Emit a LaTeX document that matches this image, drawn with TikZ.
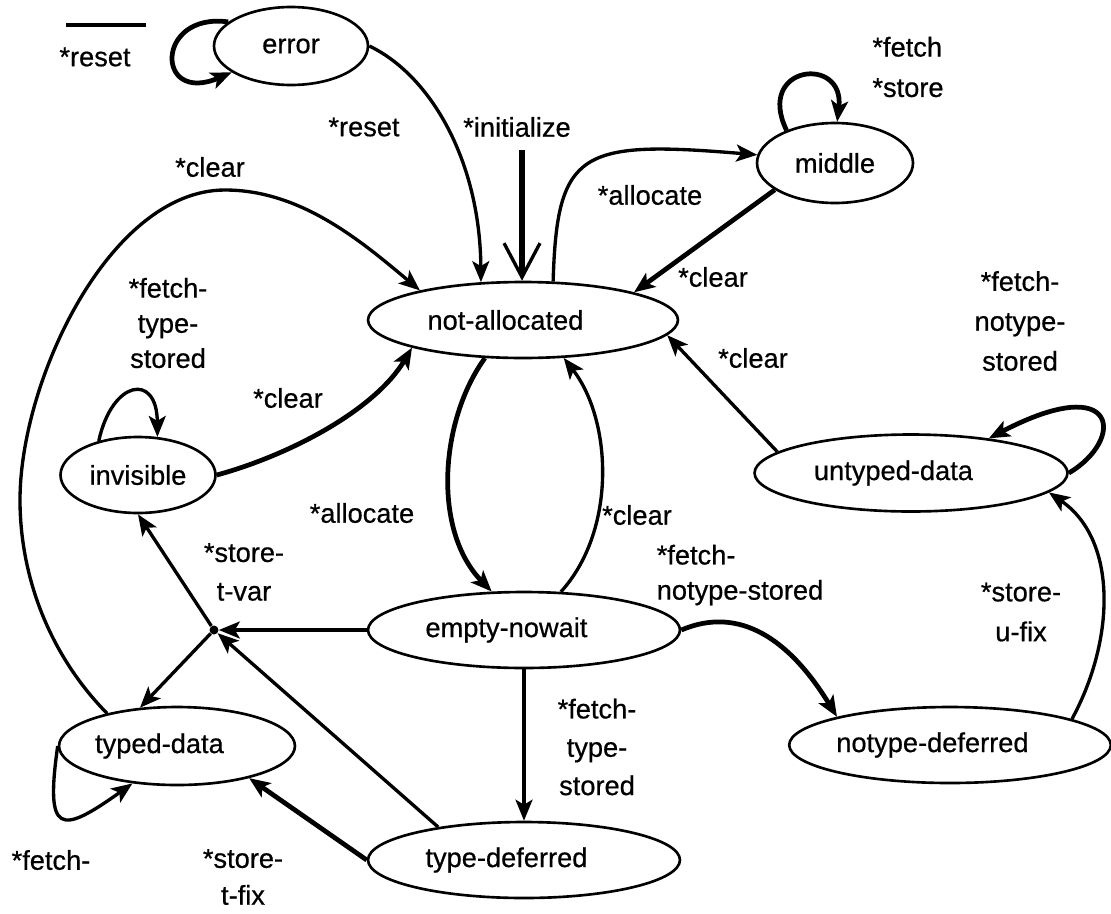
\documentclass[tikz,border=0pt]{standalone}
\usepackage{fontspec}
\setmainfont{Liberation Sans}[FakeBold=0.6]
\usetikzlibrary{arrows, arrows.meta}
\usetikzlibrary{shapes.geometric}

\begin{document}
\begin{tikzpicture}[x=0.02cm, y=-0.02cm,
    every node/.style={font=\fontsize{15.5}{20}\selectfont},
    state/.style={ellipse, draw, line width=1.5pt, inner sep=0pt},
    lefttext/.style={execute at end node={\hspace*{20pt}}},
    edge/.style={line width=1.9pt, -{Stealth[length=4.2mm, width=3.4mm, inset=1mm]}},
    heavy/.style={edge, line width=2.7pt},
    lbl/.style={align=center, inner sep=0pt}]
      \useasboundingbox (0,0) rectangle (1111,913);

      % states
      \node[state, minimum width=3.08cm, minimum height=1.56cm] (error) at (291,46) {error};
      \node[state, minimum width=3.12cm, minimum height=1.6cm] (middle) at (835,163) {middle};
      \node[state, lefttext, minimum width=6.2cm, minimum height=1.52cm] (notalloc) at (523,320) {not-allocated};
      \node[state, minimum width=3.1cm, minimum height=1.52cm] (invisible) at (138,475) {invisible};
      \node[state, lefttext, minimum width=6.26cm, minimum height=1.54cm] (untyped) at (911,473) {untyped-data};
      \node[state, lefttext, minimum width=6.24cm, minimum height=1.52cm] (empty) at (524,630) {empty-nowait};
      \node[state, lefttext, minimum width=4.72cm, minimum height=1.56cm] (typed) at (177,746) {typed-data};
      \node[state, lefttext, minimum width=6.24cm, minimum height=1.52cm] (typedef) at (524,860) {type-deferred};
      \node[state, lefttext, minimum width=6.3cm, minimum height=1.52cm] (notypedef) at (950,745) {notype-deferred};
      \node[circle, fill, inner sep=0pt, minimum size=1.8mm] (junc) at (214,630) {};
      \coordinate (init) at (522,150);
      \coordinate (keyl) at (66,25);
      \coordinate (keyr) at (146,25);

      % transitions
      \draw[line width=1.9pt] (keyl) -- (keyr);
      \draw[heavy] (error.159) .. controls (155,12) and (155,105) .. (error.204);
      \draw[edge] (error.east) .. controls (430,75) and (480,160) .. (notalloc.138);
      \draw[line width=3.5pt, -{Straight Barb[length=6.8mm, width=7.2mm, line width=1.9pt]}] (init) -- (init |- notalloc.north);
      \draw[edge] (notalloc.52) .. controls (557,150) and (580,140) .. (middle.174);
      \draw[heavy] (middle.204) -- (notalloc.14);
      \draw[heavy] (middle.146) .. controls (755,65) and (845,55) .. (middle.87);
      \draw[edge] (typed.155) .. controls (45,650) and (20,570) .. (20,500)
        .. controls (20,380) and (110,190) .. (225,190)
        .. controls (300,190) and (360,240) .. (notalloc.164);
      \draw[edge] (invisible.139) .. controls (112,380) and (157,372) .. (invisible.63);
      \draw[heavy] (invisible.east) .. controls (290,455) and (375,410) .. (notalloc.194);
      \draw[heavy] (notalloc.225) .. controls (440,420) and (432,530) .. (empty.130);
      \draw[edge] (empty.46) .. controls (617,530) and (612,420) .. (notalloc.317);
      \draw[edge] (empty.west) -- (junc);
      \draw[edge] (junc) -- (invisible.south);
      \draw[edge] (junc) -- (typed.134);
      \draw[edge] (typedef.159) -- (junc);
      \draw[heavy] (typedef.west) -- (typed.336);
      \draw[edge] (typed.west) .. controls (45,835) and (60,835) .. (typed.220);
      \draw[edge] (empty.south) -- (typedef.north);
      \draw[heavy] (empty.east) .. controls (740,605) and (790,640) .. (notypedef.166);
      \draw[edge] (notypedef.12) .. controls (1115,640) and (1118,540) .. (untyped.352);
      \draw[edge] (untyped.171) -- (notalloc.354);
      \draw[heavy] (untyped.east) .. controls (1125,440) and (1120,370) .. (untyped.24);

      % labels
      \node[lbl] (lkey) at (95,57) {*reset};
      \node[lbl] (lreset) at (364,127) {*reset};
      \node[lbl] (linit) at (517,127) {*initialize};
      \node[lbl] (lclear1) at (210,167) {*clear};
      \node[lbl] (lalloc1) at (650,195) {*allocate};
      \node[lbl, align=left] (lmid) at (908,67) {*fetch\\[3pt]*store};
      \node[lbl] (lclear2) at (713,277) {*clear};
      \node[lbl] (lfts1) at (168,323) {*fetch-\\type-\\stored};
      \node[lbl] (lfns1) at (1020,321) {*fetch-\\[2.7pt]notype-\\[2.7pt]stored};
      \node[lbl] (lclear3) at (753,358) {*clear};
      \node[lbl] (lclear4) at (288,398) {*clear};
      \node[lbl] (lalloc2) at (362,513) {*allocate};
      \node[lbl] (lclear5) at (637,515) {*clear};
      \node[lbl] (ltvar) at (244,572) {*store-\\[2pt]t-var};
      \node[lbl, align=left] (lfns2) at (740,575) {*fetch-\\notype-stored};
      \node[lbl] (lufix) at (1021,612) {*store-\\[2.7pt]u-fix};
      \node[lbl] (lfts2) at (597,747) {*fetch-\\[1.8pt]type-\\[1.8pt]stored};
      \node[lbl] (lfetch) at (51,860) {*fetch-};
      \node[lbl] (ltfix) at (243,877) {*store-\\[1pt]t-fix};
    \end{tikzpicture}
\end{document}
